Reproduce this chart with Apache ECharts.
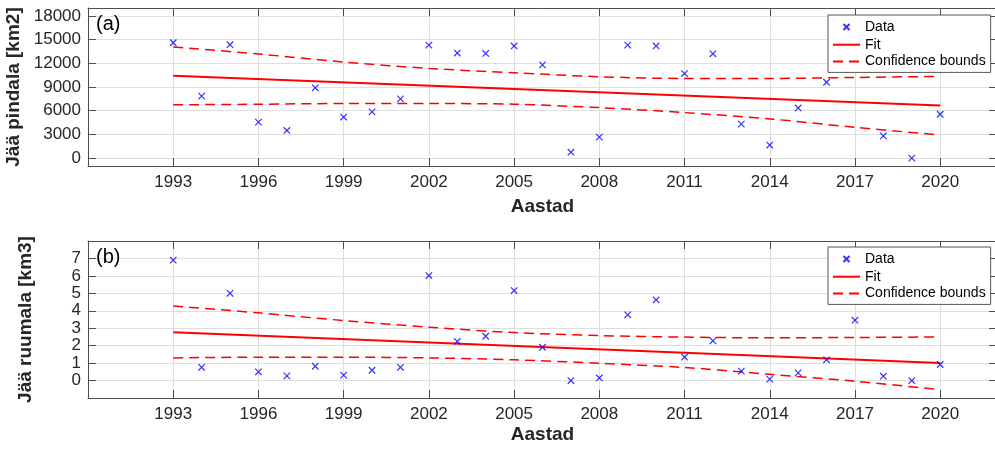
<!DOCTYPE html>
<html>
<head>
<meta charset="utf-8">
<script src="https://cdn.jsdelivr.net/npm/echarts@6/dist/echarts.min.js"></script>
<style>
  html, body { margin: 0; padding: 0; background: #fff; }
  #chart { width: 995px; height: 452px; }
</style>
</head>
<body>
<div id="chart"></div>
<script>
// aastad
var years = [1993, 1994, 1995, 1996, 1997, 1998, 1999, 2000, 2001, 2002, 2003, 2004, 2005, 2006,
  2007, 2008, 2009, 2010, 2011, 2012, 2013, 2014, 2015, 2016, 2017, 2018, 2019, 2020];
// (a) jää pindala, km2 (2017 puudub)
var areaData = [14600, 7850, 14350, 4550, 3500, 8900, 5200, 5850, 7500, 14300, 13300, 13250, 14200, 11800,
  750, 2650, 14300, 14200, 10700, 13200, 4300, 1650, 6350, 9600, null, 2800, 0, 5550];
// (b) jää ruumala, km3
var volData = [6.9, 0.76, 5.0, 0.5, 0.27, 0.82, 0.31, 0.59, 0.76, 6.02, 2.24, 2.54, 5.16, 1.91,
  0.0, 0.15, 3.77, 4.63, 1.34, 2.28, 0.54, 0.08, 0.44, 1.19, 3.46, 0.25, 0.0, 0.92];

// lineaarne sobitus (algus- ja lõpuaasta)
var fitYears = [1993, 2020];
var areaFit = [10420, 6650];
var volFit = [2.77, 1.01];

// usalduspiirid
var boundYears = [1993, 1996, 1999, 2002, 2005, 2008, 2011, 2014, 2017, 2020];
var areaUpper = [14070, 13180, 12160, 11350, 10800, 10300, 10080, 10080, 10210, 10340];
var areaLower = [6740, 6820, 6910, 6910, 6820, 6390, 5760, 4960, 3900, 2920];
var volUpper = [4.28, 3.88, 3.44, 3.06, 2.75, 2.58, 2.49, 2.45, 2.47, 2.50];
var volLower = [1.30, 1.34, 1.34, 1.30, 1.19, 0.99, 0.75, 0.36, -0.04, -0.52];

// telje märgid
var xTicks = [1993, 1996, 1999, 2002, 2005, 2008, 2011, 2014, 2017, 2020];
var yTicksA = [0, 3000, 6000, 9000, 12000, 15000, 18000];
var yTicksB = [0, 1, 2, 3, 4, 5, 6, 7];

var FONT = '"Liberation Sans", Arial, Helvetica, sans-serif';
var AXIS_COLOR = '#4d4d4d';
var TEXT_COLOR = '#262626';
var GRID_COLOR = '#dedede';
// x-märk, ümbritsetud tühja alaga, et legendis jääks väikeseks
var CROSS = 'path://M-4,-4M0,0L6,6M6,0L0,6M10,10';

function pairs(xs, ys) {
  var out = [];
  for (var i = 0; i < xs.length; i++) {
    if (ys[i] !== null) out.push([xs[i], ys[i]]);
  }
  return out;
}
function plain(v) { return String(v); }

var chart = echarts.init(document.getElementById('chart'), null, { renderer: 'canvas' });

function mainX(gi) {
  return {
    type: 'value', gridIndex: gi, min: 1990, max: 2022, position: 'bottom',
    name: 'Aastad', nameLocation: 'middle', nameGap: gi === 0 ? 31 : 27,
    nameTextStyle: { fontFamily: FONT, fontSize: 19, fontWeight: 'bold', color: TEXT_COLOR },
    axisLine: { show: true, onZero: false, lineStyle: { color: AXIS_COLOR, width: 1 } },
    axisTick: { show: true, inside: true, length: 8, customValues: xTicks, lineStyle: { color: AXIS_COLOR } },
    axisLabel: { show: true, margin: 8, customValues: xTicks, formatter: plain, fontFamily: FONT, fontSize: 17, color: TEXT_COLOR },
    splitLine: { show: true, lineStyle: { color: GRID_COLOR, width: 1 } }
  };
}
function topX(gi) {
  return {
    type: 'value', gridIndex: gi, min: 1990, max: 2022, position: 'top',
    axisLine: { show: true, onZero: false, lineStyle: { color: AXIS_COLOR, width: 1 } },
    axisTick: { show: true, inside: true, length: 8, customValues: xTicks, lineStyle: { color: AXIS_COLOR } },
    axisLabel: { show: false },
    splitLine: { show: false }
  };
}
function mainY(gi, min, max, ticks, name) {
  return {
    type: 'value', gridIndex: gi, min: min, max: max, position: 'left',
    name: name, nameLocation: 'middle', nameGap: 53,
    nameTextStyle: { fontFamily: FONT, fontSize: 19, fontWeight: 'bold', color: TEXT_COLOR },
    axisLine: { show: true, onZero: false, lineStyle: { color: AXIS_COLOR, width: 1 } },
    axisTick: { show: true, inside: true, length: 8, customValues: ticks, lineStyle: { color: AXIS_COLOR } },
    axisLabel: { show: true, margin: 7, customValues: ticks, formatter: plain, fontFamily: FONT, fontSize: 17, color: TEXT_COLOR },
    splitLine: { show: true, lineStyle: { color: GRID_COLOR, width: 1 } }
  };
}
function rightY(gi, min, max, ticks) {
  return {
    type: 'value', gridIndex: gi, min: min, max: max, position: 'right',
    axisLine: { show: true, onZero: false, lineStyle: { color: AXIS_COLOR, width: 1 } },
    axisTick: { show: true, inside: true, length: 8, customValues: ticks, lineStyle: { color: AXIS_COLOR } },
    axisLabel: { show: false },
    splitLine: { show: false }
  };
}

function panelSeries(axisIdx, data, fit, upper, lower) {
  return [
    {
      name: 'Data', type: 'scatter', xAxisIndex: axisIdx, yAxisIndex: axisIdx,
      symbol: CROSS, symbolSize: 15, symbolKeepAspect: true,
      itemStyle: { color: '#0000ff', borderColor: '#0000ff', borderWidth: 1.2 },
      data: pairs(years, data), z: 5
    },
    {
      name: 'Fit', type: 'line', xAxisIndex: axisIdx, yAxisIndex: axisIdx,
      symbol: 'none', showSymbol: false,
      itemStyle: { color: '#ff0000' },
      lineStyle: { color: '#ff0000', width: 2 },
      data: pairs(fitYears, fit), z: 4
    },
    {
      name: 'Confidence bounds', type: 'line', xAxisIndex: axisIdx, yAxisIndex: axisIdx,
      symbol: 'none', showSymbol: false, smooth: 0.3,
      itemStyle: { color: '#ff0000' },
      lineStyle: { color: '#ff0000', width: 1.5, type: [10, 6] },
      data: pairs(boundYears, upper), z: 3
    },
    {
      name: 'Confidence bounds', type: 'line', xAxisIndex: axisIdx, yAxisIndex: axisIdx,
      symbol: 'none', showSymbol: false, smooth: 0.3,
      itemStyle: { color: '#ff0000' },
      lineStyle: { color: '#ff0000', width: 1.5, type: [10, 6] },
      data: pairs(boundYears, lower), z: 3
    }
  ];
}

function legendAt(top) {
  return {
    orient: 'vertical', left: 828, top: top,
    padding: [4, 5, 4, 4], itemGap: 2.7, itemWidth: 27, itemHeight: 14,
    backgroundColor: '#fff', borderColor: '#555', borderWidth: 1, borderRadius: 0,
    selectedMode: false,
    textStyle: { fontFamily: FONT, fontSize: 14, color: '#000', padding: [0, 0, 0, 0] },
    data: [
      'Data',
      { name: 'Fit', itemStyle: { opacity: 0 } },
      { name: 'Confidence bounds', itemStyle: { opacity: 0 } }
    ]
  };
}

var option = {
  animation: false,
  backgroundColor: '#fff',
  title: [
    { text: '(a)', left: 96, top: 14, padding: 0, textStyle: { fontFamily: FONT, fontSize: 20, fontWeight: 'normal', color: '#000' } },
    { text: '(b)', left: 96, top: 247, padding: 0, textStyle: { fontFamily: FONT, fontSize: 20, fontWeight: 'normal', color: '#000' } }
  ],
  grid: [
    { left: 88, top: 8, width: 909, height: 158, outerBoundsMode: 'none', containLabel: false },
    { left: 88, top: 241, width: 909, height: 157, outerBoundsMode: 'none', containLabel: false }
  ],
  legend: [legendAt(15), legendAt(247)],
  xAxis: [mainX(0), mainX(1), topX(0), topX(1)],
  yAxis: [
    mainY(0, -1000, 19000, yTicksA, 'Jää pindala [km2]'),
    mainY(1, -1, 8, yTicksB, 'Jää ruumala [km3]'),
    rightY(0, -1000, 19000, yTicksA),
    rightY(1, -1, 8, yTicksB)
  ],
  series: panelSeries(0, areaData, areaFit, areaUpper, areaLower)
    .concat(panelSeries(1, volData, volFit, volUpper, volLower))
};

chart.setOption(option);
</script>
</body>
</html>
